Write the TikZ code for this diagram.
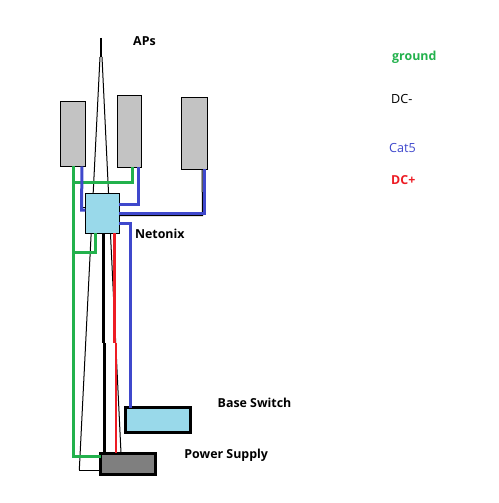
\documentclass[tikz,border=0pt]{standalone}
\usepackage{fontspec}
\setmainfont{Open Sans}
\usetikzlibrary{positioning}
\definecolor{gndgreen}{HTML}{22B14C}
\definecolor{catblue}{HTML}{3F48CC}
\definecolor{dcred}{HTML}{ED1C24}
\definecolor{apgray}{HTML}{C3C3C3}
\definecolor{netblue}{HTML}{99D9EA}
\definecolor{psgray}{HTML}{7F7F7F}

\begin{document}
\begin{tikzpicture}[
  x=1pt, y=-1pt,
  apbox/.style={draw=black, fill=apgray, line width=1pt, inner sep=0pt, outer sep=0pt},
  netbox/.style={draw=black, fill=netblue, line width=1pt, inner sep=0pt, outer sep=0pt,
              minimum width=34pt, minimum height=40pt},
  basebox/.style={draw=black, fill=netblue, line width=3pt, inner sep=0pt, outer sep=0pt,
              minimum width=65pt, minimum height=25pt},
  psbox/.style={draw=black, fill=psgray, line width=3pt, inner sep=0pt, outer sep=0pt,
              minimum width=54.5pt, minimum height=20.7pt},
  mastline/.style={draw=black, line width=1pt},
  gnd/.style={draw=gndgreen, line width=3pt},
  cat/.style={draw=catblue, line width=3pt},
  dcneg/.style={draw=black, line width=3pt},
  dcpos/.style={draw=dcred, line width=3pt},
  lbl/.style={font=\fontsize{12.4}{14}\selectfont\bfseries, inner sep=0pt, anchor=west},
  keytxt/.style={font=\fontsize{12.6}{14}\selectfont, inner sep=0pt, anchor=west}
]
\useasboundingbox (0,0) rectangle (498,503);

% mast
\coordinate (tip) at (101,38);
\coordinate (mastl) at (100,57);
\coordinate (mastr) at (102,57);
\coordinate (footl) at (79.3,470);
\coordinate (footr) at (121,453);
\draw[mastline, line width=1.5pt] (tip) -- (101,57);
\draw[mastline] (mastl) -- (footl);
\draw[mastline] (mastr) -- (footr);

\node[apbox, minimum width=25pt, minimum height=65pt] (ap1) at (72.8,133.8) {};
\node[apbox, minimum width=23.6pt, minimum height=72pt] (ap2) at (129.5,131.3) {};
\node[apbox, minimum width=26pt, minimum height=72pt] (ap3) at (194.3,133.3) {};
\node[netbox] (net) at (102.3,213.3) {};
\node[basebox] (base) at (158,420) {};
\node[psbox] (ps) at (128,463.8) {};

\draw[mastline] (footl) -- (footl -| ps.west);

% black wire under the AP3 run
\draw[mastline] ([xshift=-2pt]ap3.south -| 204,0) -- (202.5,215.5) -- (net.east |- 0,215.5);
\draw[mastline] (81,207.7) -- (net.west |- 0,207.7);

% ground
\draw[gnd] ([xshift=.5pt]ap1.south) -- ([yshift=7pt]ps.west -| 73.3,0) -- ([yshift=7pt]ps.west);
\draw[gnd] (ap2.south -| 132.7,0) -- (132.7,182.3) -- (71.5,182.3);
\draw[gnd] (95,233) -- (95,252.3) -- (71.5,252.3);

% cat5
\draw[cat] ([xshift=9pt]ap1.south) -- (81.7,210) -- (net.west |- 0,210);
\draw[cat] ([xshift=8.8pt]ap2.south) -- (138.3,204.3) -- (net.east |- 0,204.3);
\draw[cat] ([xshift=9.7pt]ap3.south) -- (204,213.7) -- (net.east |- 0,213.7);
\draw[cat] (net.east |- 0,223.7) -- (130.3,223.7) -- (base.north -| 130.3,0);

% dc
\draw[dcneg] (103.3,233) -- (103.3,343);
\draw[dcneg] (104.3,343) -- (ps.north -| 104.3,0);
\draw[dcpos] (114.3,233) -- (114.3,343);
\draw[dcpos, line width=2.4pt] (115.7,343) -- (ps.north -| 115.7,0);

\node[lbl] (aps) at (133,41) {APs};
\node[lbl, right=15.5pt of net.south east, yshift=-.5pt] (netlbl) {Netonix};
\node[lbl, right=27pt of base.north east, yshift=5pt] (baselbl) {Base Switch};
\node[lbl, right=29pt of ps.north east, yshift=-2pt] (pslbl) {Power Supply};

\node[lbl, text=gndgreen] (keygnd) at (392,57.5) {ground};
\node[keytxt] (keyneg) at (391,98.5) {DC-};
\node[keytxt, text=catblue] (keycat) at (389,147.5) {Cat5};
\node[lbl, text=dcred] (keypos) at (391,180.5) {DC+};
\end{tikzpicture}
\end{document}
